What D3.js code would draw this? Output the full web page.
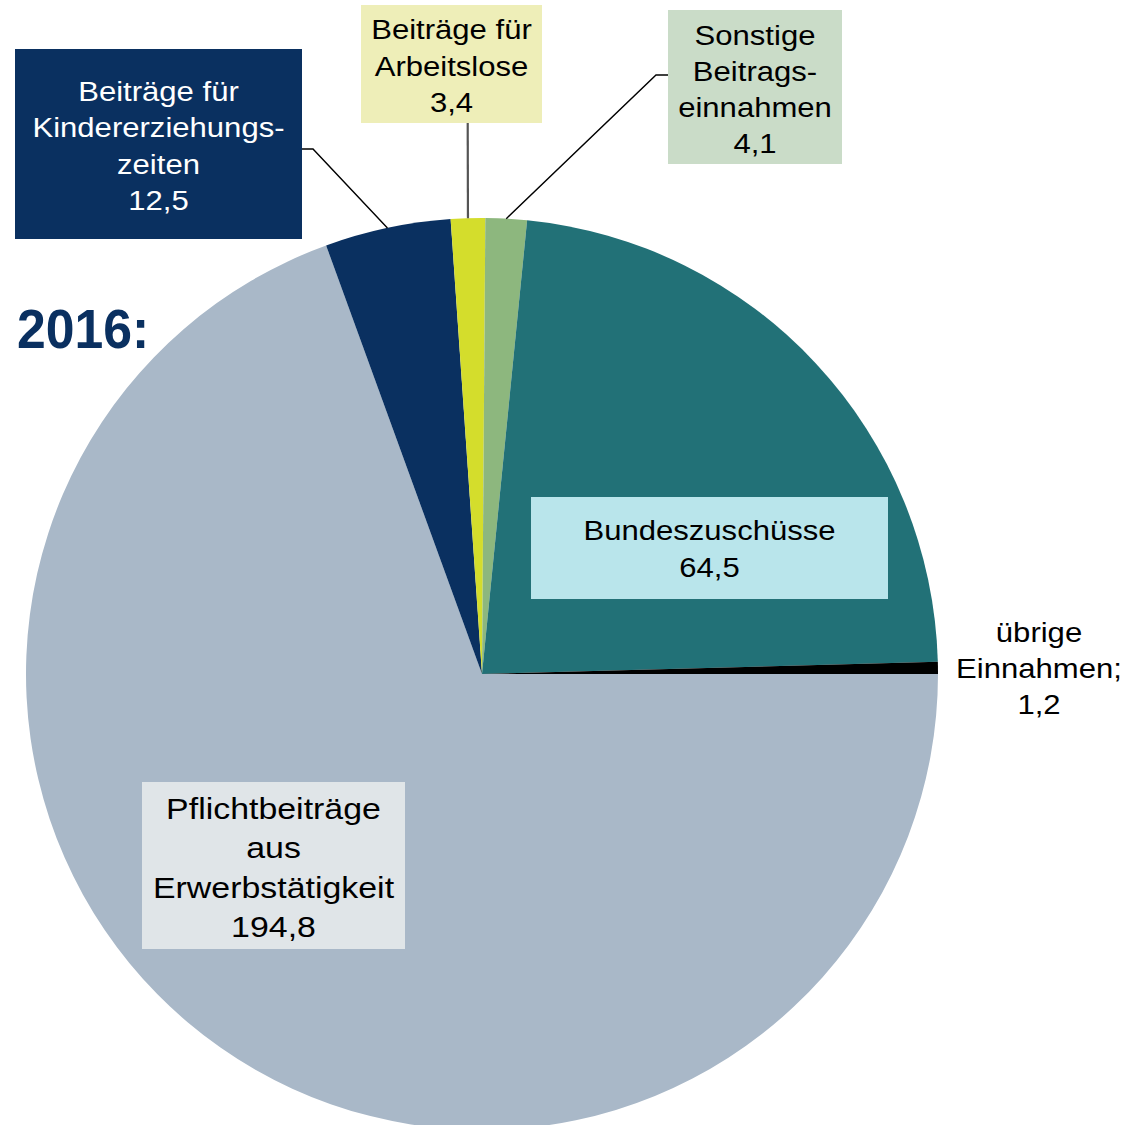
<!DOCTYPE html>
<html><head><meta charset="utf-8">
<script src="https://cdn.jsdelivr.net/npm/d3@7"></script>
<style>html,body{margin:0;padding:0;background:#fff;}svg{display:block;}</style>
</head><body>
<script>
// ---- data ----
const categories = ["Pflichtbeiträge aus Erwerbstätigkeit","Beiträge für Kindererziehungszeiten","Beiträge für Arbeitslose","Sonstige Beitragseinnahmen","Bundeszuschüsse","übrige Einnahmen"];
const values = [194.8, 12.5, 3.4, 4.1, 64.5, 1.2];
const valueLabels = ["194,8","12,5","3,4","4,1","64,5","1,2"];
const labelLines = [
  ["Pflichtbeiträge","aus","Erwerbstätigkeit"],
  ["Beiträge für","Kindererziehungs-","zeiten"],
  ["Beiträge für","Arbeitslose"],
  ["Sonstige","Beitrags-","einnahmen"],
  ["Bundeszuschüsse"],
  ["übrige","Einnahmen;"]
];
const sliceColors = ["#a9b8c8","#0a3060","#d4dd2c","#8db77e","#227177","#000000"];
const yearTitle = "2016:";

// ---- layout ----
const W = 1132, H = 1125;
const cx = 482, cy = 674, R = 456;
const svg = d3.select("body").append("svg").attr("width", W).attr("height", H);

const pie = d3.pie().sort(null).value(d => d).startAngle(Math.PI/2).endAngle(Math.PI/2 + 2*Math.PI);
const arcs = pie(values);
const arc = d3.arc().innerRadius(0).outerRadius(R);

const g = svg.append("g").attr("transform", `translate(${cx},${cy})`);
g.selectAll("path").data(arcs).enter().append("path")
  .attr("d", arc).attr("fill", (d,i) => sliceColors[i]);

// edge point at middle angle of a slice
function edge(i){
  const a = (arcs[i].startAngle + arcs[i].endAngle)/2;
  return [cx + R*Math.sin(a), cy - R*Math.cos(a)];
}

// leader lines
const leaders = [
  {i:1, pts:[[302,149],[313,149]], color:"#000", w:1.4},
  {i:2, pts:[[467.7,123]], color:"#555", w:2.2},
  {i:3, pts:[[668,75],[656,75]], color:"#000", w:1.4}
];
leaders.forEach(l => {
  const p = l.pts.concat([edge(l.i)]);
  svg.append("path").attr("d", d3.line()(p)).attr("fill","none")
    .attr("stroke", l.color).attr("stroke-width", l.w);
});

// label boxes
const boxes = [
  {i:0, x:142, y:782, w:263, h:167, fill:"#e0e5e8", color:"#000", fs:30, sx:1.13, base:819, step:39.3},
  {i:1, x:15, y:49, w:287, h:190, fill:"#0a3060", color:"#fff", fs:27.5, sx:1.13, base:101, step:36.3},
  {i:2, x:361, y:5, w:181, h:118, fill:"#eeeeb8", color:"#000", fs:27.5, sx:1.13, base:39, step:36.5},
  {i:3, x:668, y:10, w:174, h:154, fill:"#cadcc8", color:"#000", fs:27.5, sx:1.13, base:45, step:36},
  {i:4, x:531, y:497, w:357, h:102, fill:"#b9e5eb", color:"#000", fs:27.5, sx:1.13, base:540, step:37},
  {i:5, x:null, cxText:1039, fs:27.5, sx:1.13, color:"#000", base:642, step:36}
];
const font = "'Liberation Sans', Arial, sans-serif";
boxes.forEach(b => {
  if (b.x !== null) {
    svg.append("rect").attr("x", b.x).attr("y", b.y).attr("width", b.w).attr("height", b.h).attr("fill", b.fill);
  }
  const tx = b.x !== null ? b.x + b.w/2 : b.cxText;
  const lines = labelLines[b.i].concat([valueLabels[b.i]]);
  lines.forEach((t, k) => {
    svg.append("text")
      .attr("transform", `translate(${tx},${b.base + k*b.step}) scale(${b.sx},1)`)
      .attr("text-anchor","middle")
      .attr("font-family", font).attr("font-size", b.fs)
      .attr("fill", b.color).text(t);
  });
});

// year title
svg.append("text")
  .attr("transform", "translate(17,348) scale(0.94,1)")
  .attr("font-family", font).attr("font-weight","bold").attr("font-size", 55)
  .attr("fill", "#0a3060").text(yearTitle);
</script>
</body></html>
